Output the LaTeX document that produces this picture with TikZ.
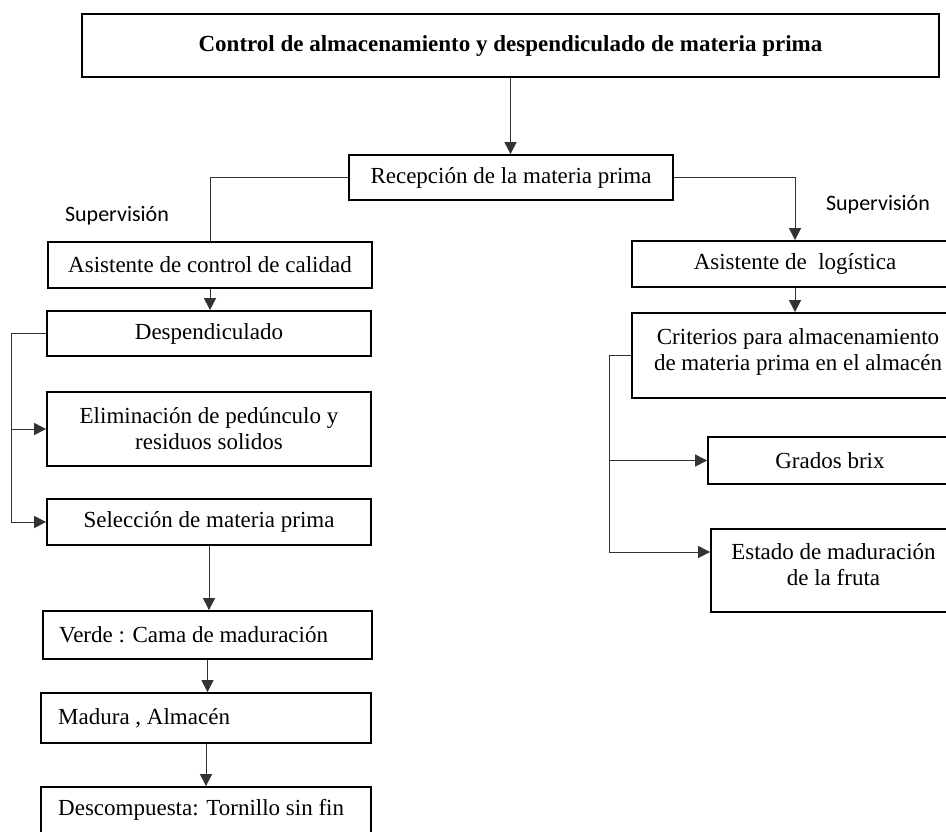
\documentclass[tikz,border=0pt]{standalone}
\usepackage{fontspec}
\setmainfont{Liberation Serif}
\newfontfamily\calib{Carlito}
\usetikzlibrary{arrows.meta}

\tikzset{
  stepbox/.style={draw=black, line width=1.8pt, rectangle, inner sep=0pt,
    font=\fontsize{23}{26}\selectfont, align=center},
  wire/.style={draw=black!80, line width=1pt},
  arr/.style={wire, -{Triangle[length=12pt,width=12pt]}},
  tag/.style={inner sep=0pt, font=\calib\fontsize{22}{26}\selectfont},
  inner/.style={inner sep=0pt, align=center, font=\fontsize{23}{26}\selectfont}
}

\begin{document}
\begin{tikzpicture}[x=1pt, y=-1pt]
\useasboundingbox (0,0) rectangle (946,831);
\clip (0,0) rectangle (946,831);
\fill[white] (0,0) rectangle (946,831);

% header
\node[stepbox, minimum width=857pt, minimum height=63pt] (top) at (510.5,45.5)
  {\bfseries Control de almacenamiento y despendiculado de materia prima};

% reception
\node[stepbox, minimum width=324pt, minimum height=45pt] (rec) at (511,177.5)
  {Recepción de la materia prima};

% left branch: quality control
\node[tag] (supl) at (117,216) {Supervisión};
\node[stepbox, minimum width=324pt, minimum height=46pt] (aqc) at (210,265)
  {Asistente de control de calidad};
\node[stepbox, minimum width=324pt, minimum height=45pt] (desp) at (209,333.5)
  {Despendiculado};
\node[stepbox, minimum width=324pt, minimum height=74pt] (elim) at (209,429)
  {Eliminación de pedúnculo y\\residuos solidos};
\node[stepbox, minimum width=324pt, minimum height=46pt] (sel) at (209,522)
  {Selección de materia prima};
\node[stepbox, minimum width=329pt, minimum height=48pt] (verde) at (207.5,635) {};
\node[inner, anchor=west] (verdet) at (59,635) {Verde : Cama de maduración};
\node[stepbox, minimum width=330pt, minimum height=50pt] (madura) at (206,718) {};
\node[inner, anchor=west] (madurat) at (58,718) {Madura , Almacén};
\node[stepbox, minimum width=330pt, minimum height=46pt] (desc) at (206,810) {};
\node[inner, anchor=west] (desct) at (58,810) {Descompuesta: Tornillo sin fin};

% right branch: logistics
\node[tag] (supr) at (878,205) {Supervisión};
\node[stepbox, minimum width=326pt, minimum height=46pt] (alog) at (795,264)
  {Asistente de\ \ logística};
\node[stepbox, minimum width=326pt, minimum height=85pt] (crit) at (795,355.5) {};
\node[inner] (critt) at (798,352)
  {Criterios para almacenamiento\\de materia prima en el almacén};
\node[stepbox, minimum width=244pt, minimum height=47pt] (grados) at (830,460.5)
  {Grados brix};
\node[stepbox, minimum width=245pt, minimum height=83pt] (estado) at (833.5,570.5) {};
\node[inner] (estadot) at (833.5,565)
  {Estado de maduración\\de la fruta};

% connectors
\draw[arr] (top.south) -- (top.south |- rec.north);
\draw[wire] (rec.west) -| (aqc.north);
\draw[arr] (rec.east) -| (alog.north);

\draw[arr] (aqc.south) -- (aqc.south |- desp.north);
\draw[wire] (desp.west) -- ++(-35,0) coordinate (lbus);
\draw[arr] (lbus) |- (sel.west);
\draw[arr] (lbus |- elim.west) -- (elim.west);
\draw[arr] (sel.south) -- (sel.south |- verde.north);
\draw[arr] (verde.south) -- (verde.south |- madura.north);
\draw[arr] (madura.south) -- (madura.south |- desc.north);

\draw[arr] (alog.south) -- (alog.south |- crit.north);
\draw[wire] (crit.west) -- ++(-22,0) coordinate (rbus);
\draw[arr] (rbus) |- ([yshift=18.5pt]estado.west);
\draw[arr] (rbus |- grados.west) -- (grados.west);
\end{tikzpicture}
\end{document}
